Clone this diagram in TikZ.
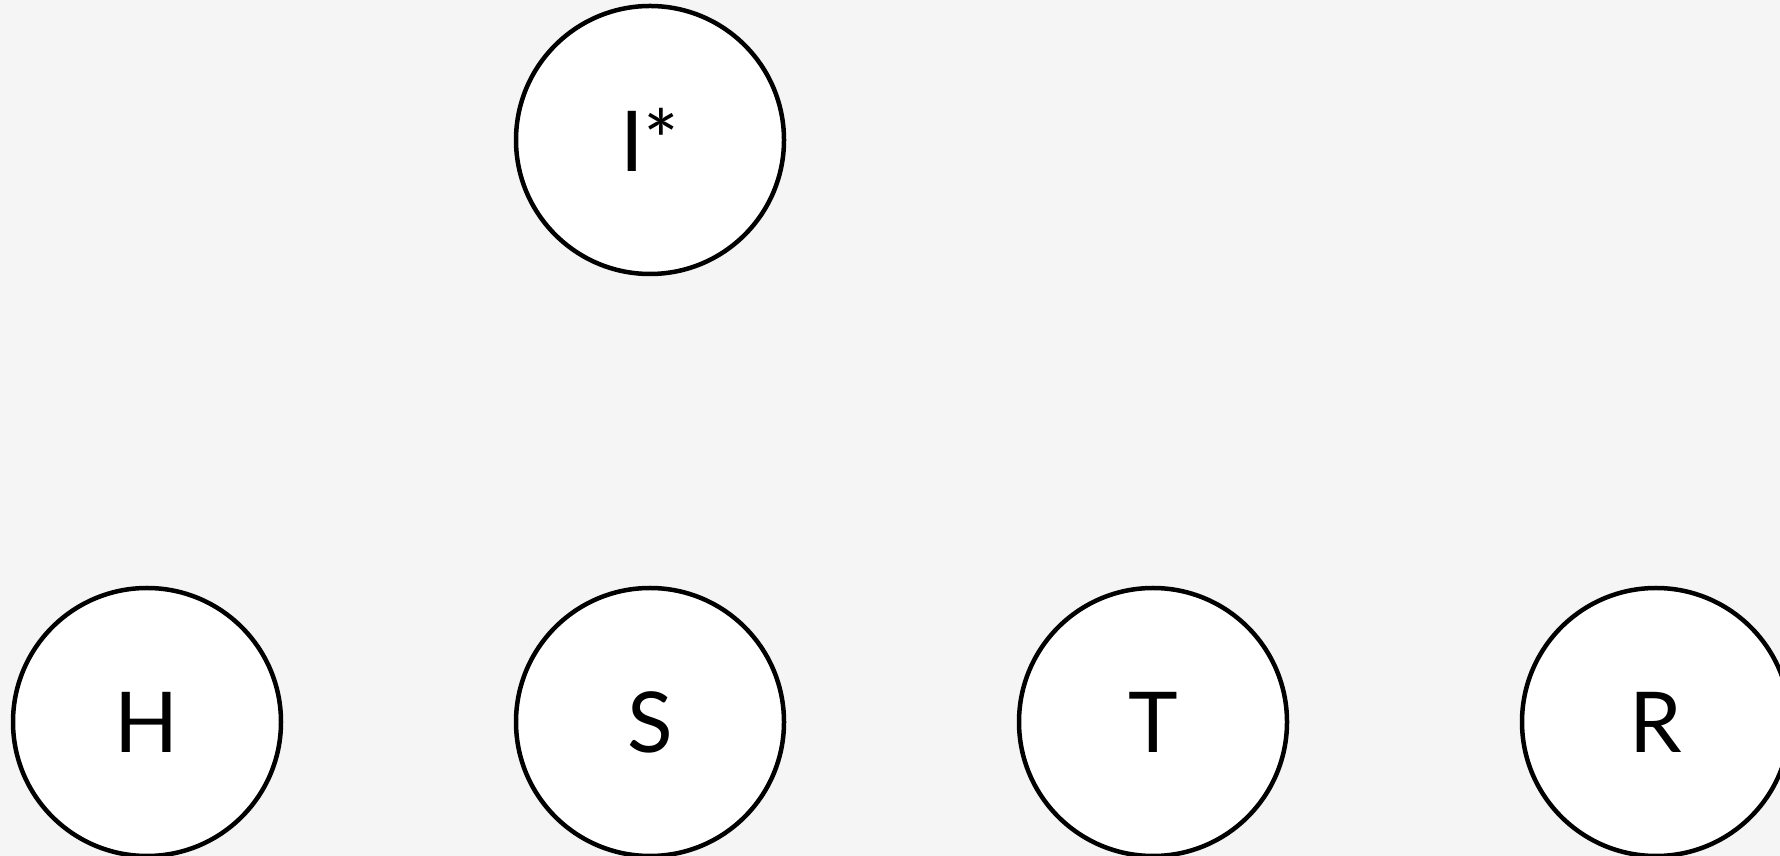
\documentclass[tikz,border=0pt]{standalone}
\usepackage{fontspec}
\setmainfont{Lato}
\definecolor{bg}{HTML}{F5F5F5}
\begin{document}
\begin{tikzpicture}[x=1pt,y=1pt,
  state/.style={circle,draw=black,fill=white,line width=4.5pt,minimum size=268pt,inner sep=0pt,font=\fontsize{84}{84}\selectfont}]
\useasboundingbox (0,0) rectangle (1780,856);
\clip (0,0) rectangle (1780,856);
\fill[bg] (0,0) rectangle (1780,856);
\node[state] (I) at (650,716) {I*};
\node[state] (H) at (147,134) {H};
\node[state] (S) at (650,134) {S};
\node[state] (T) at (1153,134) {T};
\node[state] (R) at (1656,134) {R};
\end{tikzpicture}
\end{document}
